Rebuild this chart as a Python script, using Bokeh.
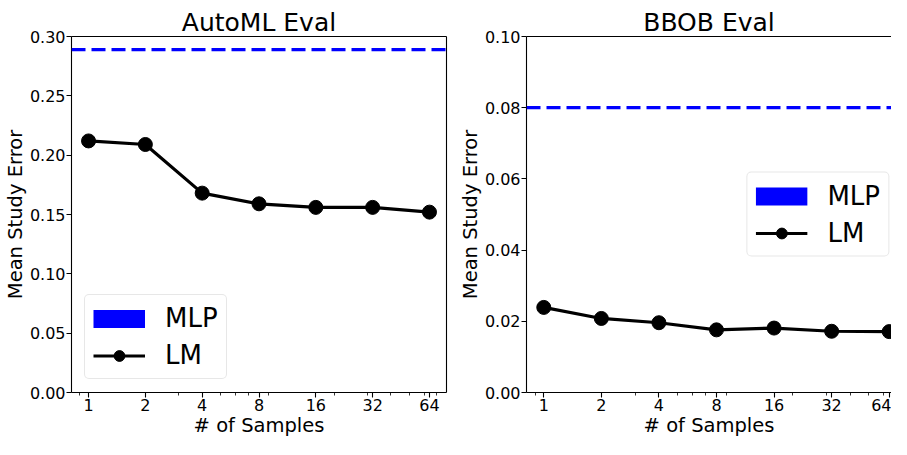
import math
from bokeh.plotting import figure
from bokeh.layouts import row
from bokeh.models import Span, FixedTicker, NumeralTickFormatter, LinearAxis, Range1d
from bokeh.embed import file_html
from bokeh.resources import INLINE

# ---- data ----
samples = [1, 2, 4, 8, 16, 32, 64]
automl_lm = [0.212, 0.209, 0.168, 0.159, 0.156, 0.156, 0.152]
automl_mlp = 0.289
bbob_lm = [0.0239, 0.0208, 0.0196, 0.0176, 0.0181, 0.0172, 0.0171]
bbob_mlp = 0.080
x_ticks = [1, 2, 4, 8, 16, 32, 64]
x_minor_ticks = [0.9, 3, 5, 6, 7, 9, 20, 30, 40, 50, 60, 70]
automl_yticks = [0.0, 0.05, 0.10, 0.15, 0.20, 0.25, 0.30]
bbob_yticks = [0.0, 0.02, 0.04, 0.06, 0.08, 0.10]

FONT = "DejaVu Sans"


def panel(title, lm, mlp, yticks, width, mb_left, mb_right, x_end, legend_loc,
          legend_margin, right_border, title_offset):
    p = figure(width=width, height=439, x_axis_type="log",
               x_range=Range1d(2 ** -0.3, x_end),
               y_range=Range1d(yticks[0], yticks[-1]),
               output_backend="svg", toolbar_location=None,
               min_border_left=mb_left, min_border_right=mb_right,
               min_border_top=36, min_border_bottom=0)
    p.title.text = title
    p.title.align = "center"
    p.title.text_font = FONT
    p.title.text_font_size = "25px"
    p.title.text_font_style = "normal"
    p.title.text_color = "black"
    p.title.offset = title_offset
    p.title.standoff = 0
    p.outline_line_color = None
    p.grid.visible = False
    p.background_fill_color = "white"
    p.border_fill_color = "white"

    # dummy renderer for the MLP legend swatch (blue block)
    p.line(x=[float("nan")], y=[float("nan")], line_color="blue",
           line_width=18, legend_label="MLP")

    p.add_layout(Span(location=mlp, dimension="width", line_color="blue",
                      line_width=3.2, line_dash="14 6"))
    p.line(x=samples, y=lm, line_color="black", line_width=3.2, legend_label="LM")
    p.scatter(x=samples, y=lm, size=14, fill_color="black", line_color="black",
              legend_label="LM")

    xa = p.xaxis[0]
    xa.ticker = FixedTicker(ticks=x_ticks, minor_ticks=x_minor_ticks)
    xa.formatter = NumeralTickFormatter(format="0")
    ya = p.yaxis[0]
    ya.ticker = FixedTicker(ticks=yticks)
    ya.formatter = NumeralTickFormatter(format="0.00")
    xa.axis_label = "# of Samples"
    ya.axis_label = "Mean Study Error"
    for ax in (xa, ya):
        ax.axis_label_text_font = FONT
        ax.axis_label_text_font_size = "19.5px"
        ax.axis_label_text_font_style = "normal"
        ax.axis_label_text_color = "black"
        ax.major_label_text_font = FONT
        ax.major_label_text_font_size = "16px"
        ax.major_label_text_color = "black"
        ax.axis_line_color = "black"
        ax.axis_line_width = 1.1
        ax.major_tick_line_color = "black"
        ax.major_tick_line_width = 1.1
        ax.major_tick_in = 0
        ax.major_tick_out = 5
        ax.minor_tick_in = 0
        ax.minor_tick_out = 3
        ax.minor_tick_line_width = 0.8
        ax.major_label_standoff = 1
    xa.axis_label_standoff = 0
    ya.axis_label_standoff = 0
    xa.minor_tick_line_color = "black"
    ya.minor_tick_line_color = None

    # top border (and right border when visible)
    top = LinearAxis(ticker=FixedTicker(ticks=[]), axis_line_color="black",
                     axis_line_width=1.1, major_label_text_font_size="0px",
                     major_tick_line_color=None, minor_tick_line_color=None,
                     major_label_standoff=0)
    p.add_layout(top, "above")
    if right_border:
        rt = LinearAxis(ticker=FixedTicker(ticks=[]), axis_line_color="black",
                        axis_line_width=1.1, major_label_text_font_size="0px",
                        major_tick_line_color=None, minor_tick_line_color=None,
                        major_label_standoff=0)
        p.add_layout(rt, "right")

    lg = p.legend[0]
    lg.location = legend_loc
    lg.margin = legend_margin
    lg.glyph_width = 52
    lg.glyph_height = 27
    lg.label_text_font = FONT
    lg.label_text_font_size = "26px"
    lg.label_text_color = "black"
    lg.label_standoff = 20
    lg.padding = 8
    lg.spacing = 7
    lg.border_line_color = "#d0d0d0"
    lg.border_line_width = 1
    lg.background_fill_alpha = 0.8
    try:
        lg.border_radius = 5
    except Exception:
        pass
    return p


left = panel("AutoML Eval", automl_lm, automl_mlp, automl_yticks,
             width=455, mb_left=64, mb_right=9, x_end=2 ** 6.3,
             legend_loc="bottom_left", legend_margin=13, right_border=True,
             title_offset=0)
right = panel("BBOB Eval", bbob_lm, bbob_mlp, bbob_yticks,
              width=436, mb_left=69, mb_right=0, x_end=2 ** 6.04,
              legend_loc="center_right", legend_margin=2, right_border=False,
              title_offset=7)

layout = row(left, right, spacing=0)
open("out.html", "w").write(file_html(layout, INLINE))
